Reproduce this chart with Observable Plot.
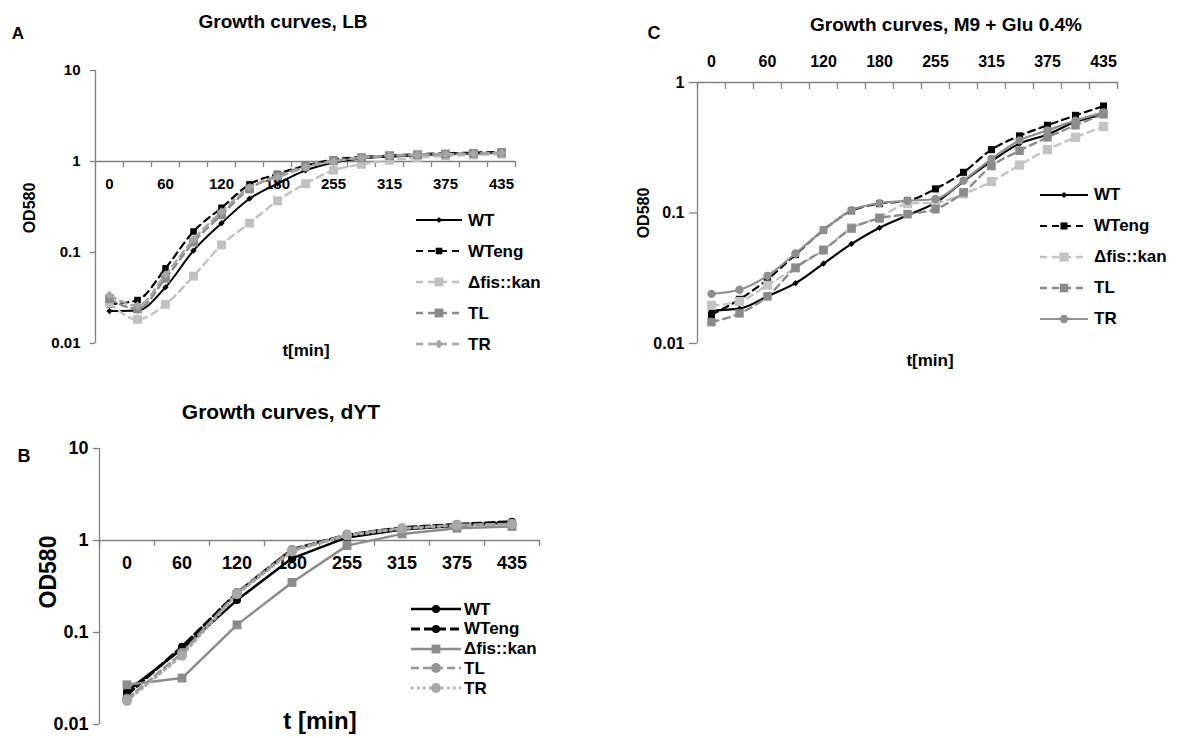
<!DOCTYPE html>
<html>
<head>
<meta charset="utf-8">
<script src="https://cdn.jsdelivr.net/npm/d3@7"></script>
<script src="https://cdn.jsdelivr.net/npm/@observablehq/plot@0.6"></script>
<style>
  body { margin: 0; background: #fff; }
  #page { position: relative; width: 1180px; height: 738px; overflow: hidden; background: #fff;
          font-family: "Liberation Sans", Arial, sans-serif; font-weight: bold; color: #000; }
  .panel { position: absolute; }
  .panel svg { overflow: visible; }
  .panel svg text { font-weight: bold; }
  .txt { position: absolute; white-space: nowrap; line-height: 1; transform: translate(-50%, -50%); }
  .row { position: absolute; display: flex; align-items: center; white-space: nowrap; line-height: 1; }
  .row svg { display: block; overflow: visible; }
</style>
</head>
<body>
<div id="page"></div>
<script>
// ---------------- data ----------------
const series = ["WT", "WTeng", "Δfis::kan", "TL", "TR"];

// Panel A: LB
const timesA  = ["0","30","60","90","120","150","180","210","255","285","315","345","375","405","435"];
const labelsA = ["0","60","120","180","255","315","375","435"];
const yTicksA = [0.01, 0.1, 1, 10];
const lbWT    = [0.0227, 0.023, 0.0415, 0.105, 0.21, 0.39, 0.57, 0.80, 0.97, 1.08, 1.13, 1.17, 1.20, 1.22, 1.24];
const lbWTeng = [0.027, 0.030, 0.067, 0.17, 0.31, 0.56, 0.73, 0.90, 1.05, 1.12, 1.16, 1.20, 1.23, 1.25, 1.28];
const lbFis   = [0.028, 0.0184, 0.027, 0.055, 0.121, 0.21, 0.37, 0.57, 0.80, 0.93, 1.03, 1.10, 1.15, 1.18, 1.20];
const lbTL    = [0.031, 0.024, 0.052, 0.13, 0.26, 0.50, 0.70, 0.88, 1.02, 1.10, 1.16, 1.19, 1.21, 1.23, 1.25];
const lbTR    = [0.034, 0.026, 0.057, 0.14, 0.28, 0.52, 0.67, 0.86, 1.00, 1.10, 1.15, 1.18, 1.20, 1.22, 1.24];

// Panel B: dYT
const timesB  = ["0","60","120","180","255","315","375","435"];
const labelsB = ["0","60","120","180","255","315","375","435"];
const yTicksB = [0.01, 0.1, 1, 10];
const ytWT    = [0.023, 0.066, 0.225, 0.64, 1.08, 1.32, 1.45, 1.56];
const ytWTeng = [0.021, 0.070, 0.27, 0.80, 1.15, 1.38, 1.50, 1.60];
const ytFis   = [0.027, 0.032, 0.121, 0.35, 0.88, 1.18, 1.36, 1.42];
const ytTL    = [0.019, 0.060, 0.27, 0.79, 1.16, 1.36, 1.48, 1.52];
const ytTR    = [0.018, 0.056, 0.26, 0.76, 1.13, 1.34, 1.46, 1.50];

// Panel C: M9 + Glu 0.4%
const timesC  = ["0","30","60","90","120","150","180","210","255","285","315","345","375","405","435"];
const labelsC = ["0","60","120","180","255","315","375","435"];
const yTicksC = [0.01, 0.1, 1];
const m9WT    = [0.0179, 0.0185, 0.023, 0.029, 0.041, 0.058, 0.077, 0.096, 0.12, 0.175, 0.25, 0.34, 0.40, 0.50, 0.57];
const m9WTeng = [0.0166, 0.0218, 0.031, 0.048, 0.074, 0.104, 0.118, 0.124, 0.153, 0.205, 0.306, 0.39, 0.47, 0.56, 0.66];
const m9Fis   = [0.0196, 0.021, 0.028, 0.038, 0.052, 0.077, 0.092, 0.118, 0.12, 0.14, 0.174, 0.233, 0.306, 0.38, 0.46];
const m9TL    = [0.0146, 0.017, 0.023, 0.038, 0.052, 0.076, 0.091, 0.098, 0.107, 0.144, 0.229, 0.30, 0.38, 0.47, 0.57];
const m9TR    = [0.024, 0.0258, 0.033, 0.049, 0.074, 0.105, 0.119, 0.124, 0.128, 0.177, 0.26, 0.36, 0.43, 0.51, 0.59];

// ---------------- styles ----------------
const axisColor = "#808080";
const FONT = "'Liberation Sans', Arial, sans-serif";

const stylesA = [
  {color: "#000000", w: 2,   dash: null,  symbol: "diamond2", r: 2.8},
  {color: "#000000", w: 2.2, dash: "7,5", symbol: "square",   r: 3.7},
  {color: "#c0c0c0", w: 2.4, dash: "7,5", symbol: "square",   r: 5},
  {color: "#8a8a8a", w: 2.4, dash: "7,5", symbol: "square",   r: 5},
  {color: "#a5a5a5", w: 2.4, dash: "7,5", symbol: "diamond2", r: 4}
];
const stylesB = [
  {color: "#000000", w: 2.5, dash: null,      symbol: "circle", r: 4},
  {color: "#000000", w: 3,   dash: "9,4",     symbol: "circle", r: 4},
  {color: "#8c8c8c", w: 2.5, dash: null,      symbol: "square", r: 5},
  {color: "#959595", w: 2.5, dash: "8,4",     symbol: "circle", r: 5},
  {color: "#a8a8a8", w: 2.5, dash: "2.5,3.5", symbol: "circle", r: 5}
];
const stylesC = [
  {color: "#000000", w: 2.2, dash: null,  symbol: "diamond2", r: 2.8},
  {color: "#000000", w: 2.2, dash: "7,5", symbol: "square",   r: 4},
  {color: "#c3c3c3", w: 2.3, dash: "7,5", symbol: "square",   r: 5.2},
  {color: "#8a8a8a", w: 2.3, dash: "7,5", symbol: "square",   r: 4.8},
  {color: "#8f8f8f", w: 2.2, dash: null,  symbol: "circle",   r: 4.2}
];

const page = document.getElementById("page");

function drawPanel(o) {
  const n = o.times.length;
  const xDomain = [-0.5, n - 0.5];
  const bounds = d3.range(n + 1).map(k => k - 0.5);
  const labelRows = o.times.map((t, i) => ({i, t})).filter(d => o.labels.includes(d.t));
  const marks = [
    Plot.ruleX([xDomain[0]], {stroke: axisColor, strokeWidth: 1.3}),
    Plot.ruleY([o.crossAt], {stroke: axisColor, strokeWidth: 1.3}),
    Plot.ruleX(bounds, {x: d => d, y1: () => o.crossAt, y2: () => o.crossAt,
                        insetTop: 0, insetBottom: -o.xTick, stroke: axisColor, strokeWidth: 1.3}),
    Plot.axisY({ticks: o.yTicks, tickFormat: d => String(d), tickSize: o.yTick, tickPadding: o.yPad,
                fontSize: o.tickFont, fontWeight: "bold", stroke: axisColor, strokeWidth: 1.3,
                fill: "#000", label: null}),
    Plot.text(labelRows, {x: "i", y: () => o.crossAt, text: "t", dy: o.labelDy,
                          fontSize: o.tickFont, fontWeight: "bold", fill: "#000"})
  ];
  series.forEach((s, k) => {
    const st = o.styles[k];
    const rows = o.values[k].map((v, i) => ({series: s, i, t: o.times[i], v}));
    marks.push(Plot.line(rows, {x: "i", y: "v", stroke: st.color, strokeWidth: st.w,
                                strokeDasharray: st.dash || undefined, curve: o.curve}));
    marks.push(Plot.dot(rows, {x: "i", y: "v", symbol: st.symbol, r: st.r, fill: st.color, stroke: "none"}));
  });
  const svg = Plot.plot({
    width: o.width, height: o.height,
    marginLeft: o.m[0], marginTop: o.m[1], marginRight: o.m[2], marginBottom: o.m[3],
    style: {fontFamily: FONT, background: "transparent", overflow: "visible"},
    x: {type: "linear", domain: xDomain, axis: null},
    y: {type: "log", domain: o.yDomain, axis: null},
    marks
  });
  const holder = document.createElement("div");
  holder.className = "panel";
  holder.style.left = o.left + "px";
  holder.style.top = o.top + "px";
  holder.appendChild(svg);
  page.appendChild(holder);
}

function addText(text, cx, cy, size, rotate) {
  const d = document.createElement("div");
  d.className = "txt";
  d.textContent = text;
  d.style.left = cx + "px";
  d.style.top = cy + "px";
  d.style.fontSize = size + "px";
  if (rotate) d.style.transform = "translate(-50%, -50%) rotate(-90deg)";
  page.appendChild(d);
}

const symbolTypes = {diamond2: d3.symbolDiamond2 || d3.symbolSquare, square: d3.symbolSquare, circle: d3.symbolCircle};

function addLegend(o) {
  series.forEach((s, k) => {
    const st = o.styles[k];
    const row = document.createElement("div");
    row.className = "row";
    row.style.left = o.left + "px";
    row.style.top = (o.top + k * o.gap - 9) + "px";
    row.style.height = "18px";
    row.style.fontSize = o.font + "px";
    const svg = d3.create("svg").attr("width", o.sw).attr("height", 18);
    svg.append("line").attr("x1", 0).attr("x2", o.sw).attr("y1", 9).attr("y2", 9)
      .attr("stroke", st.color).attr("stroke-width", st.w)
      .attr("stroke-dasharray", st.dash || null);
    svg.append("path").attr("transform", `translate(${o.sw / 2},9)`)
      .attr("d", d3.symbol(symbolTypes[st.symbol], Math.PI * st.r * st.r)())
      .attr("fill", st.color);
    row.appendChild(svg.node());
    const t = document.createElement("span");
    t.textContent = s;
    t.style.marginLeft = o.tg + "px";
    row.appendChild(t);
    page.appendChild(row);
  });
}

// ---------------- Panel A ----------------
drawPanel({left: 0, top: 0, width: 560, height: 370, m: [95, 70, 45, 27],
  times: timesA, labels: labelsA, yTicks: yTicksA, yDomain: [0.01, 10], crossAt: 1,
  values: [lbWT, lbWTeng, lbFis, lbTL, lbTR], styles: stylesA, curve: "monotone-x",
  xTick: 6, yTick: 5, yPad: 10, tickFont: 15, labelDy: 23});
addText("A", 18, 33, 17);
addText("Growth curves, LB", 283, 21, 19);
addText("OD580", 30, 208, 16, true);
addText("t[min]", 306, 350, 17);
addLegend({left: 416, top: 220, gap: 31, sw: 46, tg: 6, font: 17, styles: stylesA});

// ---------------- Panel B ----------------
drawPanel({left: 0, top: 370, width: 560, height: 368, m: [99, 78, 21, 14],
  times: timesB, labels: labelsB, yTicks: yTicksB, yDomain: [0.01, 10], crossAt: 1,
  values: [ytWT, ytWTeng, ytFis, ytTL, ytTR], styles: stylesB, curve: "linear",
  xTick: 6, yTick: 6, yPad: 5, tickFont: 18, labelDy: 23});
addText("B", 24, 456, 18);
addText("Growth curves, dYT", 281, 411, 21);
addText("OD580", 48, 572, 23, true);
addText("t [min]", 320, 721, 24);
addLegend({left: 411, top: 609, gap: 19.8, sw: 50, tg: 3, font: 17, styles: stylesB});

// ---------------- Panel C ----------------
drawPanel({left: 610, top: 0, width: 570, height: 370, m: [87, 82, 63, 27],
  times: timesC, labels: labelsC, yTicks: yTicksC, yDomain: [0.01, 1], crossAt: 1,
  values: [m9WT, m9WTeng, m9Fis, m9TL, m9TR], styles: stylesC, curve: "monotone-x",
  xTick: 7, yTick: 8, yPad: 5, tickFont: 16, labelDy: -21});
addText("C", 654, 33, 18);
addText("Growth curves, M9 + Glu 0.4%", 946, 24, 19);
addText("OD580", 644, 213, 16, true);
addText("t[min]", 930, 360, 17);
addLegend({left: 1040, top: 194.5, gap: 31, sw: 48, tg: 6, font: 17, styles: stylesC});
</script>
</body>
</html>
